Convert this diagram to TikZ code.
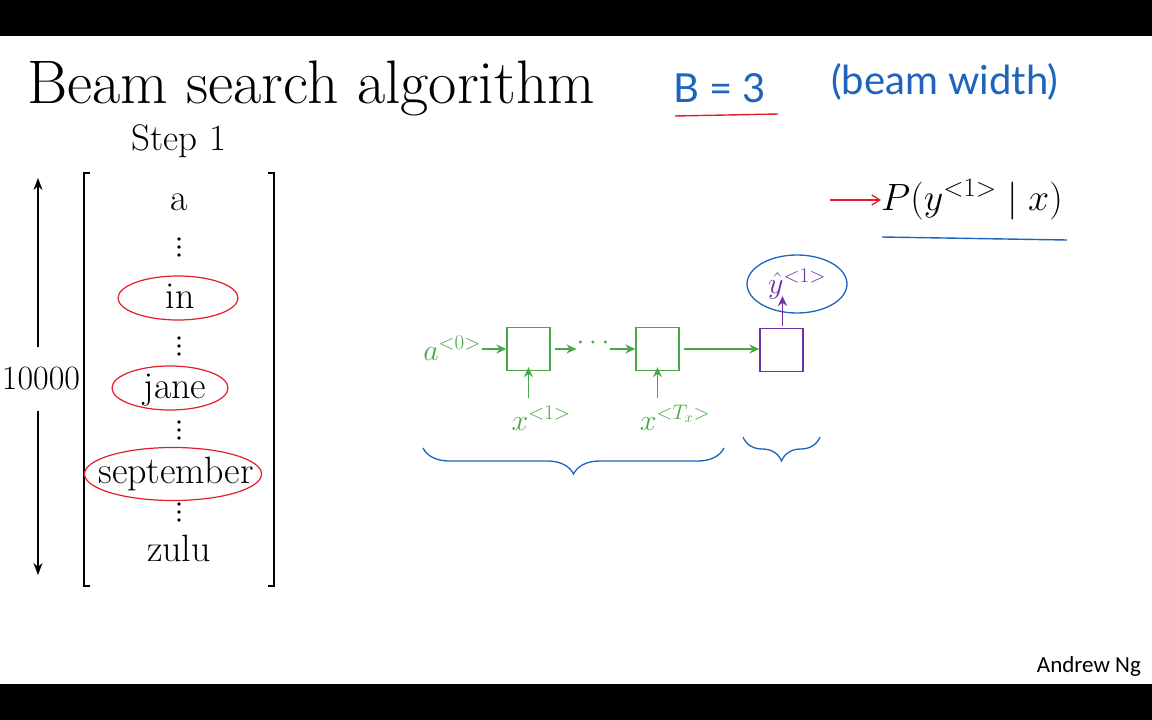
\RequirePackage{fix-cm}
\documentclass[tikz,border=0pt]{standalone}
\usepackage{fontspec}
\usetikzlibrary{arrows.meta,shapes.geometric,decorations.pathreplacing}
\newfontfamily\handfont{Lato}
\newfontfamily\credfont{Carlito}
\definecolor{rnn}{RGB}{72,168,72}
\definecolor{outc}{RGB}{112,48,160}
\definecolor{pen}{RGB}{30,100,190}
\definecolor{redpen}{RGB}{228,30,40}
\tikzset{
  word/.style={font=\fontsize{38}{44}\selectfont, inner sep=0pt},
  pick/.style={ellipse, draw=redpen, line width=1.2pt, inner sep=0pt},
  cell/.style={draw=rnn, line width=1.3pt, minimum size=43pt, inner sep=0pt},
  outcell/.style={draw=outc, line width=1.3pt, minimum size=43pt, inner sep=0pt},
  flow/.style={rnn, line width=1.5pt, -{Stealth[length=10pt,width=9pt]}},
  gm/.style={text=rnn, font=\fontsize{30}{34}\selectfont, inner sep=1pt},
  hand/.style={text=pen, font=\handfont\fontsize{40}{46}\selectfont, inner sep=0pt},
  brace/.style={pen, line width=1.3pt, decorate},
  % vertical ellipsis: three dots 8pt apart around the given point
  pics/vellipsis/.style={code={
    \fill (0,-8) circle (1.8pt) (0,0) circle (1.8pt) (0,8) circle (1.8pt);
  }}
}
\begin{document}
\begin{tikzpicture}[x=1pt,y=-1pt]
% frame: black bands top and bottom
\fill[black] (0,0) rectangle (1152,720);
\fill[white] (0,36) rectangle (1152,684);
\useasboundingbox (0,0) rectangle (1152,720);

% title and step label
\node[anchor=base west, inner sep=0pt, font=\fontsize{61.5}{70}\selectfont] (title) at (27,103) {Beam search algorithm};
\node[anchor=base, inner sep=0pt, font=\fontsize{37}{42}\selectfont] (step) at (179,150) {Step 1};

% vocabulary vector in brackets
\draw[line width=1.5pt] (90,173) -- (84,173) -- (84,586) -- (90,586);
\draw[line width=1.5pt] (268,173) -- (274,173) -- (274,586) -- (268,586);
\node[word, anchor=base] (wa) at (179,210) {a};
\pic at (179,247) {vellipsis};
\node[word, anchor=base] (win) at (180,308) {in};
\pic at (179,346) {vellipsis};
\node[word, anchor=base] (wjane) at (175,398) {jane};
\pic at (179,430) {vellipsis};
\node[word, anchor=base] (wsep) at (176,483) {september};
\pic at (179,512) {vellipsis};
\node[word, anchor=base] (wzulu) at (179,561) {zulu};

% the three chosen words, circled
\node[pick, minimum width=120pt, minimum height=44pt] (ein) at (178,298) {};
\node[pick, minimum width=116pt, minimum height=44pt] (ejane) at (170,388) {};
\node[pick, minimum width=177pt, minimum height=53pt] (esep) at (173,474) {};

% vocabulary size
\coordinate (vtop) at (38,178);
\coordinate (vbot) at (38,575);
\node[inner sep=0pt, font=\fontsize{34}{40}\selectfont] (count) at (41,379) {10000};
\draw[line width=1.3pt, -{Stealth[length=12pt,width=9pt]}] (count.north -| vtop) ++(0,-20) -- (vtop);
\draw[line width=1.3pt, -{Stealth[length=12pt,width=9pt]}] (count.south -| vbot) ++(0,20) -- (vbot);

% beam width
\node[hand, anchor=base west] (bw) at (673,102) {B = 3};
\coordinate (ul1) at (675,116);
\coordinate (ul2) at (778,114);
\draw[redpen, line width=1.4pt] (ul1) -- (ul2);
\node[hand, anchor=base west] (bwlabel) at (831,94) {(beam width)};

% target probability
\node[anchor=base west, inner sep=0pt, font=\fontsize{38}{44}\selectfont] (prob) at (881,210) {$P(y^{<1>}\mid x)$};
\coordinate (parrow) at (830,200);
\draw[redpen, line width=1.3pt, -{Straight Barb[length=8pt,width=10pt]}] (parrow) -- (prob.west |- parrow);
\coordinate (pu1) at (882,237);
\coordinate (pu2) at (1067,240);
\draw[pen, line width=1.4pt] (pu1) -- (pu2);

% encoder cells
\node[cell] (c1) at (528.5,349) {};
\node[cell] (c2) at (657.5,349) {};
\node[outcell] (c3) at (781.5,350) {};
\node[gm, anchor=base east] (a0) at (482,360) {$a^{<0>}$};
\node[text=rnn, font=\fontsize{28}{32}\selectfont, inner sep=0pt] (dots) at (593,343) {$\cdots$};
\node[gm, anchor=base] (x1) at (541,430) {$x^{<1>}$};
\node[gm, anchor=base] (xT) at (675,430) {$x^{<T_x>}$};
\draw[flow] (a0.east |- c1) -- (c1.west);
\draw[flow] (c1.east) ++(4,0) -- (dots.west |- c1);
\draw[flow] (dots.east |- c2) -- (c2.west);
\draw[flow] (c2.east) ++(4,0) -- (c3.west |- c2);
\draw[flow] (c1.south) ++(0,27) -- ([yshift=4pt]c1.south);
\draw[flow] (c2.south) ++(0,27) -- ([yshift=4pt]c2.south);

% first output, circled
\node[ellipse, draw=pen, line width=1.3pt, minimum width=100pt, minimum height=58pt, inner sep=0pt,
      text=outc, font=\fontsize{30}{34}\selectfont] (yhat) at (797,284) {$\hat{y}^{<1>}$};
\draw[outc, line width=1.5pt, -{Stealth[length=10pt,width=9pt]}] (c3.north) ++(1,-2) -- (782.5,296);

% braces under the encoder and the output step
\coordinate (b1l) at (423,448);
\coordinate (b1r) at (724,448);
\draw[brace, decoration={brace, amplitude=26pt, mirror}] (b1l) -- (b1r);
\coordinate (b2l) at (743,437);
\coordinate (b2r) at (820,437);
\draw[brace, decoration={brace, amplitude=24pt, mirror}] (b2l) -- (b2r);

% credit
\node[anchor=base east, inner sep=0pt, font=\credfont\fontsize{23}{27}\selectfont] (credit) at (1141,672) {Andrew Ng};
\end{tikzpicture}
\end{document}
